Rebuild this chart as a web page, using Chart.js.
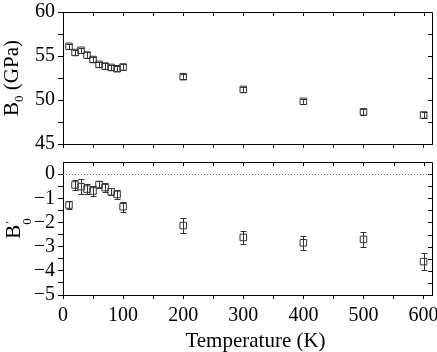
<!DOCTYPE html>
<html><head><meta charset="utf-8">
<script src="https://cdn.jsdelivr.net/npm/chart.js@4"></script>
<style>body{margin:0;background:#fff}canvas{display:block}</style>
</head><body>
<canvas id="topChart" width="437" height="152"></canvas>
<canvas id="botChart" width="437" height="200"></canvas>
<script>
const temperatures = [10, 20, 30, 40, 50, 60, 70, 80, 90, 100, 200, 300, 400, 500, 600];
const bulkModulus = [56.1, 55.4, 55.65, 55.1, 54.6, 54.05, 53.85, 53.7, 53.55, 53.75, 52.65, 51.2, 49.85, 48.65, 48.3];
const bulkModulusErr = [0.3, 0.3, 0.3, 0.3, 0.3, 0.3, 0.3, 0.3, 0.3, 0.3, 0.3, 0.3, 0.3, 0.3, 0.3];
const bulkDeriv = [-1.28, -0.45, -0.52, -0.62, -0.70, -0.43, -0.56, -0.73, -0.84, -1.35, -2.13, -2.62, -2.84, -2.70, -3.62];
const bulkDerivErr = [0.15, 0.2, 0.3, 0.2, 0.2, 0.15, 0.2, 0.15, 0.2, 0.2, 0.3, 0.28, 0.3, 0.32, 0.34];
const xTicks = [0, 50, 100, 150, 200, 250, 300, 350, 400, 450, 500, 550, 600];
const xLabelTicks = [0, 100, 200, 300, 400, 500, 600];
const topYTicks = [45, 47.5, 50, 52.5, 55, 57.5, 60];
const topYLabelTicks = [45, 50, 55, 60];
const botYTicks = [-5, -4.5, -4, -3.5, -3, -2.5, -2, -1.5, -1, -0.5, 0];
const botYLabelTicks = [-5, -4, -3, -2, -1, 0];
const xTitle = 'Temperature (K)';

const FONT = '"Liberation Serif", "Times New Roman", serif';

const framePlugin = {
  id: 'frame',
  afterDraw(chart) {
    const ctx = chart.ctx, a = chart.chartArea;
    const xs = chart.scales.x, ys = chart.scales.y;
    ctx.save();
    ctx.strokeStyle = '#000';
    ctx.lineWidth = 1;
    ctx.beginPath();
    ctx.moveTo(a.left, a.top + 0.5); ctx.lineTo(a.right + 0.5, a.top + 0.5);
    ctx.lineTo(a.right + 0.5, a.bottom);
    ctx.stroke();
    ctx.beginPath();
    xTicks.forEach(v => {
      const px = Math.round(xs.getPixelForValue(v)) + 0.5;
      ctx.moveTo(px, a.top); ctx.lineTo(px, a.top + 4);
    });
    const yt = chart.options.yTickList;
    yt.forEach(v => {
      const py = Math.round(ys.getPixelForValue(v)) + 0.5;
      ctx.moveTo(a.right, py); ctx.lineTo(a.right - 4, py);
    });
    ctx.stroke();
    ctx.restore();
  }
};

const errorPlugin = {
  id: 'errbars',
  afterDatasetsDraw(chart) {
    const ctx = chart.ctx, ys = chart.scales.y;
    chart.data.datasets.forEach((ds, di) => {
      const meta = chart.getDatasetMeta(di);
      ctx.save();
      ctx.strokeStyle = ds.borderColor;
      ctx.lineWidth = 1;
      ctx.beginPath();
      meta.data.forEach((pt, i) => {
        const e = ds.errors[i], v = ds.data[i].y;
        const x = Math.round(pt.x) + 0.5;
        const y1 = Math.round(ys.getPixelForValue(v + e)) + 0.5;
        const y2 = Math.round(ys.getPixelForValue(v - e)) + 0.5;
        ctx.moveTo(x, y1); ctx.lineTo(x, y2);
        ctx.moveTo(x - 3, y1); ctx.lineTo(x + 3, y1);
        ctx.moveTo(x - 3, y2); ctx.lineTo(x + 3, y2);
      });
      ctx.stroke();
      ctx.restore();
    });
  }
};

const zeroLinePlugin = {
  id: 'zeroline',
  beforeDatasetsDraw(chart) {
    if (!chart.options.zeroLine) return;
    const ctx = chart.ctx, a = chart.chartArea, ys = chart.scales.y;
    const py = Math.round(ys.getPixelForValue(0)) + 0.5;
    ctx.save();
    ctx.strokeStyle = '#777';
    ctx.lineWidth = 1;
    ctx.setLineDash([1, 2]);
    ctx.beginPath();
    ctx.moveTo(a.left, py); ctx.lineTo(a.right, py);
    ctx.stroke();
    ctx.restore();
  }
};

const titlePlugin = {
  id: 'titles',
  afterDraw(chart) {
    const t = chart.options.yTitle;
    const ctx = chart.ctx, a = chart.chartArea;
    const cy = (a.top + a.bottom) / 2;
    const big = '21px ' + FONT, small = '13px ' + FONT;
    ctx.save();
    ctx.fillStyle = '#000';
    ctx.textBaseline = 'alphabetic';
    if (chart.options.xTitleOn) {
      ctx.font = big;
      ctx.textAlign = 'center';
      ctx.fillText(xTitle, (a.left + a.right) / 2 + 8, chart.height - 5);
    }
    ctx.translate(0, cy);
    ctx.rotate(-Math.PI / 2);
    ctx.textAlign = 'left';
    ctx.font = big;
    const wB = ctx.measureText(t.main).width;
    const wRest = ctx.measureText(t.rest).width;
    ctx.font = small;
    const wSub = ctx.measureText(t.sub).width;
    const wSup = t.sup ? ctx.measureText(t.sup).width : 0;
    const wScript = Math.max(wSub, wSup);
    const total = wB + wScript + wRest;
    let u = -total / 2;
    const base = t.baseline;
    ctx.font = big;
    ctx.fillText(t.main, u, base);
    u += wB;
    ctx.font = small;
    ctx.fillText(t.sub, u, base + t.subShift);
    if (t.sup) ctx.fillText(t.sup, u + 1, base + t.supShift);
    u += wScript;
    ctx.font = big;
    ctx.fillText(t.rest, u, base);
    ctx.restore();
  }
};

function ticksSetter(list) {
  return s => { s.ticks = list.map(v => ({ value: v })); };
}

function makeChart(id, opts) {
  return new Chart(document.getElementById(id), {
    type: 'scatter',
    data: {
      datasets: [{
        data: temperatures.map((t, i) => ({ x: t, y: opts.values[i] })),
        errors: opts.errors,
        pointStyle: 'rect',
        pointRadius: 4.6,
        pointHoverRadius: 4.6,
        borderColor: '#333',
        backgroundColor: 'rgba(255,255,255,0)',
        borderWidth: 1
      }]
    },
    options: {
      responsive: false,
      animation: false,
      events: [],
      yTickList: opts.yTicks,
      yTitle: opts.yTitle,
      xTitleOn: opts.showX,
      zeroLine: opts.zeroLine,
      layout: { autoPadding: false, padding: { top: opts.padTop, right: 5, left: 0, bottom: 0 } },
      plugins: { legend: { display: false }, tooltip: { enabled: false } },
      scales: {
        x: {
          type: 'linear', min: 0, max: 614,
          afterBuildTicks: ticksSetter(xTicks),
          ticks: {
            display: opts.showX,
            color: '#000',
            font: { family: FONT, size: 20 },
            padding: 5,
            maxRotation: 0,
            autoSkip: false,
            callback: v => xLabelTicks.includes(v) ? String(v) : ''
          },
          grid: { drawOnChartArea: false, drawTicks: true, tickLength: 4, color: '#000', lineWidth: 1 },
          border: { display: true, color: '#000', width: 1 },
          afterFit: s => { s.height = opts.xHeight; s.paddingLeft = 0; s.paddingRight = 0; s.paddingTop = 0; s.paddingBottom = 0; }
        },
        y: {
          min: opts.yMin, max: opts.yMax,
          afterBuildTicks: ticksSetter(opts.yTicks),
          ticks: {
            color: '#000',
            font: { family: FONT, size: 20 },
            padding: 3,
            autoSkip: false,
            callback: v => opts.yLabels.includes(v) ? String(v).replace('-', '\u2212') : ''
          },
          grid: { drawOnChartArea: false, drawTicks: true, tickLength: 5, color: '#000', lineWidth: 1 },
          border: { display: true, color: '#000', width: 1 },
          afterFit: s => { s.width = 63; s.paddingTop = 0; s.paddingBottom = 0; s.paddingLeft = 0; s.paddingRight = 0; }
        }
      }
    },
    plugins: [zeroLinePlugin, errorPlugin, framePlugin, titlePlugin]
  });
}

makeChart('topChart', {
  values: bulkModulus, errors: bulkModulusErr,
  yMin: 45, yMax: 60, yTicks: topYTicks, yLabels: topYLabelTicks,
  padTop: 12, xHeight: 8, showX: false, zeroLine: false,
  yTitle: { main: 'B', sub: '0', sup: '', rest: ' (GPa)', baseline: 18, subShift: 5, supShift: 0 }
});
makeChart('botChart', {
  values: bulkDeriv, errors: bulkDerivErr,
  yMin: -5, yMax: 0.5, yTicks: botYTicks, yLabels: botYLabelTicks,
  padTop: 10, xHeight: 57, showX: true, zeroLine: true,
  yTitle: { main: 'B', sub: '0', sup: '\u2032', rest: '', baseline: 20, subShift: 11, supShift: -6 }
});
</script>
</body></html>
